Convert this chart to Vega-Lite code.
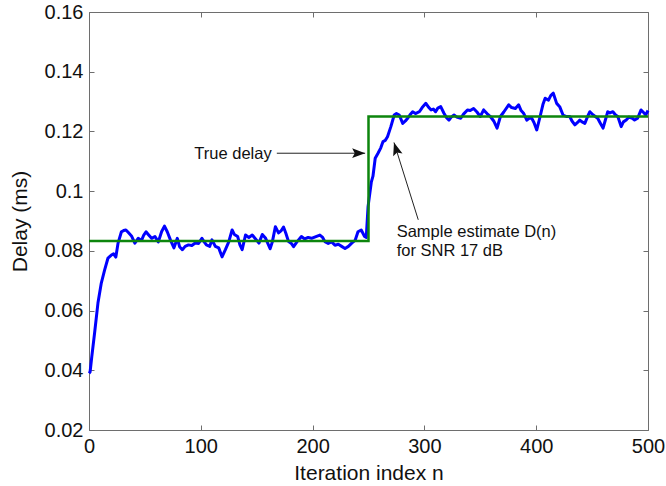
{
  "$schema": "https://vega.github.io/schema/vega-lite/v6.json",
  "width": 559,
  "height": 418,
  "autosize": {"type": "none"},
  "padding": {"left": 89, "top": 12, "right": 18, "bottom": 56},
  "config": {
    "font": "Liberation Sans",
    "view": {"stroke": "#6e6e6e", "strokeWidth": 1},
    "axis": {
      "domain": false,
      "grid": false,
      "tickSize": -5,
      "tickColor": "#6e6e6e",
      "tickWidth": 1,
      "labelFont": "Liberation Sans",
      "labelFontSize": 20,
      "labelColor": "#111111",
      "labelPadding": 11,
      "labelFlush": false,
      "labelOverlap": false,
      "titleFont": "Liberation Sans",
      "titleFontSize": 21,
      "titleFontWeight": "normal",
      "titleColor": "#111111"
    }
  },
  "datasets": {
    "estimate": [
      {"n": 0, "d": 0.039}, {"n": 1, "d": 0.0395}, {"n": 2.5, "d": 0.0446}, {"n": 5, "d": 0.0525},
      {"n": 8, "d": 0.0625}, {"n": 11, "d": 0.0692}, {"n": 14, "d": 0.0736}, {"n": 17, "d": 0.0776},
      {"n": 20, "d": 0.0786}, {"n": 22, "d": 0.079}, {"n": 24, "d": 0.0779}, {"n": 26, "d": 0.0826},
      {"n": 29, "d": 0.0864}, {"n": 31, "d": 0.0868}, {"n": 33, "d": 0.087}, {"n": 35, "d": 0.0862},
      {"n": 36, "d": 0.0858}, {"n": 38, "d": 0.085}, {"n": 41, "d": 0.0826}, {"n": 44, "d": 0.0842},
      {"n": 47, "d": 0.0835}, {"n": 49, "d": 0.0853}, {"n": 51, "d": 0.0864}, {"n": 53, "d": 0.0855},
      {"n": 56, "d": 0.0842}, {"n": 59, "d": 0.0848}, {"n": 62, "d": 0.083}, {"n": 65, "d": 0.0865},
      {"n": 67.5, "d": 0.0883}, {"n": 70, "d": 0.0864}, {"n": 73, "d": 0.0835}, {"n": 76, "d": 0.081},
      {"n": 79, "d": 0.0842}, {"n": 81, "d": 0.0814}, {"n": 83.5, "d": 0.0804}, {"n": 86, "d": 0.0815},
      {"n": 89, "d": 0.082}, {"n": 92, "d": 0.0818}, {"n": 95, "d": 0.0826}, {"n": 98, "d": 0.0825},
      {"n": 101, "d": 0.0842}, {"n": 103, "d": 0.083}, {"n": 105, "d": 0.082}, {"n": 108, "d": 0.0815},
      {"n": 110, "d": 0.0837}, {"n": 113, "d": 0.0815}, {"n": 116, "d": 0.081}, {"n": 119, "d": 0.078},
      {"n": 122, "d": 0.0804}, {"n": 125, "d": 0.083}, {"n": 128, "d": 0.087}, {"n": 130, "d": 0.0855},
      {"n": 133, "d": 0.0848}, {"n": 135, "d": 0.082}, {"n": 137, "d": 0.0804}, {"n": 140, "d": 0.0853},
      {"n": 143, "d": 0.0845}, {"n": 146, "d": 0.0853}, {"n": 149, "d": 0.084}, {"n": 152, "d": 0.0826},
      {"n": 155, "d": 0.0855}, {"n": 158, "d": 0.0842}, {"n": 162, "d": 0.0807}, {"n": 164, "d": 0.083},
      {"n": 166.7, "d": 0.0881}, {"n": 169.5, "d": 0.086}, {"n": 172, "d": 0.0868}, {"n": 174, "d": 0.088},
      {"n": 176, "d": 0.086}, {"n": 178.5, "d": 0.0831}, {"n": 181, "d": 0.0825}, {"n": 183, "d": 0.0814},
      {"n": 186, "d": 0.083}, {"n": 190, "d": 0.0848}, {"n": 193, "d": 0.084}, {"n": 196, "d": 0.0845},
      {"n": 199, "d": 0.0842}, {"n": 203, "d": 0.0848}, {"n": 206.5, "d": 0.0853}, {"n": 209, "d": 0.0845},
      {"n": 211, "d": 0.0831}, {"n": 214, "d": 0.0825}, {"n": 217, "d": 0.083}, {"n": 220, "d": 0.0819},
      {"n": 223, "d": 0.0822}, {"n": 226, "d": 0.0815}, {"n": 229, "d": 0.0808}, {"n": 232, "d": 0.0815},
      {"n": 235, "d": 0.0826}, {"n": 238, "d": 0.0835}, {"n": 240.6, "d": 0.0864}, {"n": 243.5, "d": 0.087},
      {"n": 246.5, "d": 0.0848}, {"n": 248, "d": 0.0845}, {"n": 249.6, "d": 0.0948}, {"n": 252.5, "d": 0.103},
      {"n": 254, "d": 0.105}, {"n": 256, "d": 0.111}, {"n": 258.5, "d": 0.1127}, {"n": 261, "d": 0.1145},
      {"n": 263, "d": 0.1166}, {"n": 265, "d": 0.117}, {"n": 267, "d": 0.1182}, {"n": 270, "d": 0.1216},
      {"n": 273, "d": 0.1255}, {"n": 275, "d": 0.126}, {"n": 277.5, "d": 0.1255}, {"n": 280.6, "d": 0.1227},
      {"n": 283, "d": 0.1235}, {"n": 285, "d": 0.1244}, {"n": 287, "d": 0.1255}, {"n": 289.5, "d": 0.1266},
      {"n": 292, "d": 0.126}, {"n": 295.5, "d": 0.1266}, {"n": 298, "d": 0.128}, {"n": 301.3, "d": 0.1294},
      {"n": 304, "d": 0.128}, {"n": 306, "d": 0.1272}, {"n": 308, "d": 0.1275}, {"n": 310, "d": 0.1266},
      {"n": 312, "d": 0.1278}, {"n": 314.6, "d": 0.1283}, {"n": 317.5, "d": 0.1261}, {"n": 320, "d": 0.1245},
      {"n": 322, "d": 0.1238}, {"n": 324, "d": 0.1248}, {"n": 326.5, "d": 0.1255}, {"n": 329, "d": 0.1248},
      {"n": 332.5, "d": 0.1244}, {"n": 335, "d": 0.1258}, {"n": 338.5, "d": 0.1272}, {"n": 341, "d": 0.127},
      {"n": 344, "d": 0.1277}, {"n": 347, "d": 0.1265}, {"n": 350, "d": 0.125}, {"n": 353, "d": 0.1272},
      {"n": 356, "d": 0.126}, {"n": 359, "d": 0.125}, {"n": 362, "d": 0.1235}, {"n": 365, "d": 0.1211},
      {"n": 368, "d": 0.125}, {"n": 371, "d": 0.1265}, {"n": 375.4, "d": 0.1289}, {"n": 378, "d": 0.128},
      {"n": 381.4, "d": 0.1277}, {"n": 384.3, "d": 0.1289}, {"n": 386.5, "d": 0.127}, {"n": 388.7, "d": 0.1261},
      {"n": 391.6, "d": 0.1238}, {"n": 394, "d": 0.1245}, {"n": 396, "d": 0.1244}, {"n": 398, "d": 0.123},
      {"n": 400.5, "d": 0.1205}, {"n": 403.5, "d": 0.125}, {"n": 406, "d": 0.129}, {"n": 408, "d": 0.1311},
      {"n": 411, "d": 0.1305}, {"n": 413, "d": 0.132}, {"n": 415.3, "d": 0.1328}, {"n": 418.3, "d": 0.1294},
      {"n": 421, "d": 0.1283}, {"n": 424, "d": 0.1255}, {"n": 427, "d": 0.125}, {"n": 430, "d": 0.125},
      {"n": 432, "d": 0.1235}, {"n": 434.6, "d": 0.1222}, {"n": 437, "d": 0.123}, {"n": 439, "d": 0.1238},
      {"n": 441, "d": 0.1232}, {"n": 443.5, "d": 0.1227}, {"n": 446, "d": 0.125}, {"n": 448, "d": 0.1266},
      {"n": 451, "d": 0.1255}, {"n": 455, "d": 0.1244}, {"n": 457, "d": 0.123}, {"n": 459.8, "d": 0.1211},
      {"n": 462, "d": 0.124}, {"n": 464, "d": 0.1266}, {"n": 466, "d": 0.1262}, {"n": 468.6, "d": 0.1266},
      {"n": 471, "d": 0.1255}, {"n": 473, "d": 0.125}, {"n": 476, "d": 0.1216}, {"n": 478, "d": 0.1232},
      {"n": 480.5, "d": 0.1238}, {"n": 483, "d": 0.1248}, {"n": 486, "d": 0.1244}, {"n": 488, "d": 0.1238},
      {"n": 490.7, "d": 0.1244}, {"n": 493.8, "d": 0.1272}, {"n": 496.7, "d": 0.1261}, {"n": 498, "d": 0.1255},
      {"n": 500, "d": 0.127}
    ],
    "truth": [
      {"i": 0, "n": 0, "d": 0.0833},
      {"i": 1, "n": 250, "d": 0.0833},
      {"i": 2, "n": 250, "d": 0.125},
      {"i": 3, "n": 500, "d": 0.125}
    ],
    "arrows": [
      {"id": "true", "n": 168, "d": 0.1127, "n2": 247, "d2": 0.1127},
      {"id": "est", "n": 294.5, "d": 0.0904, "n2": 272.8, "d2": 0.1163}
    ],
    "labels": [
      {"text": "True delay", "n": 163.4, "d": 0.1107, "align": "right"},
      {"text": "Sample estimate D(n)", "n": 275.2, "d": 0.0848, "align": "left"},
      {"text": "for SNR 17 dB", "n": 275.2, "d": 0.0784, "align": "left"}
    ]
  },
  "resolve": {"axis": {"x": "independent", "y": "independent"}},
  "layer": [
    {
      "data": {"name": "estimate"},
      "mark": {"type": "line", "color": "#0000ff", "strokeWidth": 3, "strokeJoin": "round"},
      "encoding": {
        "x": {"field": "n", "type": "quantitative",
              "scale": {"domain": [0, 500], "nice": false, "zero": false},
              "axis": {"orient": "bottom", "values": [0, 100, 200, 300, 400, 500], "title": "Iteration index n", "titlePadding": 6}},
        "y": {"field": "d", "type": "quantitative",
              "scale": {"domain": [0.02, 0.16], "nice": false, "zero": false},
              "axis": {"orient": "left", "values": [0.02, 0.04, 0.06, 0.08, 0.1, 0.12, 0.14, 0.16], "format": "~g", "title": "Delay (ms)", "titlePadding": 14}}
      }
    },
    {
      "data": {"name": "truth"},
      "mark": {"type": "line", "color": "#0d850d", "strokeWidth": 2.5},
      "encoding": {
        "x": {"field": "n", "type": "quantitative",
              "axis": {"orient": "top", "values": [0, 100, 200, 300, 400, 500], "labels": false, "title": null}},
        "y": {"field": "d", "type": "quantitative",
              "axis": {"orient": "right", "values": [0.02, 0.04, 0.06, 0.08, 0.1, 0.12, 0.14, 0.16], "labels": false, "title": null}},
        "order": {"field": "i"}
      }
    },
    {
      "data": {"name": "arrows"},
      "mark": {"type": "rule", "color": "#222222", "strokeWidth": 1},
      "encoding": {
        "x": {"field": "n", "type": "quantitative", "axis": null},
        "y": {"field": "d", "type": "quantitative", "axis": null},
        "x2": {"field": "n2"},
        "y2": {"field": "d2"}
      }
    },
    {
      "data": {"name": "arrows"},
      "transform": [{"filter": "datum.id === 'true'"}],
      "mark": {"type": "point", "shape": "M0,0L-2,-0.75L-1.6,0L-2,0.75Z", "size": 169, "filled": true, "color": "#111111", "opacity": 1, "angle": 0},
      "encoding": {
        "x": {"field": "n2", "type": "quantitative", "axis": null},
        "y": {"field": "d2", "type": "quantitative", "axis": null}
      }
    },
    {
      "data": {"name": "arrows"},
      "transform": [{"filter": "datum.id === 'est'"}],
      "mark": {"type": "point", "shape": "M0,0L-2,-0.75L-1.6,0L-2,0.75Z", "size": 169, "filled": true, "color": "#111111", "opacity": 1, "angle": 252.75},
      "encoding": {
        "x": {"field": "n2", "type": "quantitative", "axis": null},
        "y": {"field": "d2", "type": "quantitative", "axis": null}
      }
    },
    {
      "data": {"name": "labels"},
      "transform": [{"filter": "datum.align === 'right'"}],
      "mark": {"type": "text", "align": "right", "baseline": "alphabetic", "fontSize": 16.5, "font": "Liberation Sans", "color": "#111111"},
      "encoding": {
        "x": {"field": "n", "type": "quantitative", "axis": null},
        "y": {"field": "d", "type": "quantitative", "axis": null},
        "text": {"field": "text"}
      }
    },
    {
      "data": {"name": "labels"},
      "transform": [{"filter": "datum.align === 'left'"}],
      "mark": {"type": "text", "align": "left", "baseline": "alphabetic", "fontSize": 16.5, "font": "Liberation Sans", "color": "#111111"},
      "encoding": {
        "x": {"field": "n", "type": "quantitative", "axis": null},
        "y": {"field": "d", "type": "quantitative", "axis": null},
        "text": {"field": "text"}
      }
    }
  ]
}
